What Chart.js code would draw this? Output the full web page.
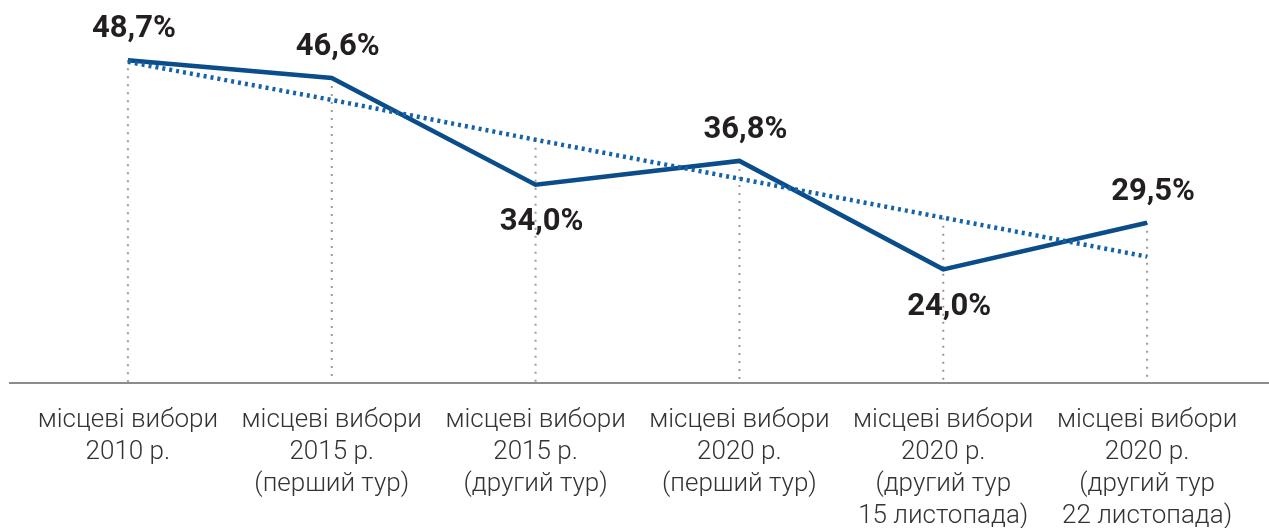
<!DOCTYPE html>
<html>
<head>
<meta charset="utf-8">
<script src="https://cdn.jsdelivr.net/npm/chart.js@4.4.0/dist/chart.umd.min.js"></script>
<style>
    html, body { margin: 0; padding: 0; background: #fff; overflow: hidden; }
    .chart-box { position: relative; width: 1269px; height: 554px; }
</style>
</head>
<body>
<div class="chart-box"><canvas id="turnout-chart"></canvas></div>
<script>
// Data
const categories = [
    ['місцеві вибори', '2010 р.'],
    ['місцеві вибори', '2015 р.', '(перший тур)'],
    ['місцеві вибори', '2015 р.', '(другий тур)'],
    ['місцеві вибори', '2020 р.', '(перший тур)'],
    ['місцеві вибори', '2020 р.', '(другий тур', '15 листопада)'],
    ['місцеві вибори', '2020 р.', '(другий тур', '22 листопада)']
];
const turnout = [48.7, 46.6, 34.0, 36.8, 24.0, 29.5];
const trend = [48.5, 44.0, 39.3, 34.7, 30.1, 25.5];
const labelBelow = [false, false, true, false, true, false];

const mainColor = '#0b4d8a';
const trendColor = '#1462a8';

// Drop lines, full-width baseline and value labels
const decorations = {
    id: 'decorations',
    beforeDatasetsDraw(chart) {
        const { ctx, chartArea, scales } = chart;
        const y = scales.y;
        ctx.save();
        ctx.strokeStyle = '#9a9a9a';
        ctx.lineWidth = 2;
        ctx.setLineDash([2, 6]);
        turnout.forEach((v, i) => {
            const x = scales.x.getPixelForValue(i);
            const top = y.getPixelForValue(Math.max(v, trend[i]));
            ctx.beginPath();
            ctx.moveTo(x, top);
            ctx.lineTo(x, chartArea.bottom);
            ctx.stroke();
        });
        ctx.setLineDash([]);
        ctx.strokeStyle = '#8c8c8c';
        ctx.lineWidth = 2;
        ctx.beginPath();
        ctx.moveTo(9, chartArea.bottom + 1);
        ctx.lineTo(chart.width, chartArea.bottom + 1);
        ctx.stroke();
        ctx.restore();
    },
    afterDatasetsDraw(chart) {
        const { ctx, scales } = chart;
        ctx.save();
        ctx.font = 'bold 31px Roboto';
        ctx.fillStyle = '#231f20';
        ctx.textAlign = 'center';
        ctx.textBaseline = 'middle';
        turnout.forEach((v, i) => {
            const x = scales.x.getPixelForValue(i);
            const py = scales.y.getPixelForValue(v);
            const ty = labelBelow[i] ? py + 38 : py - 31;
            ctx.fillText(v.toFixed(1).replace('.', ',') + '%', x + 6, ty);
        });
        ctx.restore();
    }
};

new Chart(document.getElementById('turnout-chart'), {
    type: 'line',
    data: {
        labels: categories,
        datasets: [
            {
                label: 'Явка',
                data: turnout,
                borderColor: mainColor,
                borderWidth: 4.5,
                pointRadius: 0,
                tension: 0,
                order: 2
            },
            {
                label: 'Тренд',
                data: trend,
                borderColor: trendColor,
                borderWidth: 4.5,
                borderDash: [3, 4],
                borderCapStyle: 'butt',
                pointRadius: 0,
                tension: 0,
                order: 1
            }
        ]
    },
    options: {
        responsive: true,
        maintainAspectRatio: false,
        animation: false,
        layout: { padding: { left: 26, right: 20, top: 0, bottom: 0 } },
        plugins: {
            legend: { display: false },
            tooltip: { enabled: false }
        },
        scales: {
            x: {
                offset: true,
                grid: { display: false, drawTicks: false },
                border: { display: false },
                ticks: {
                    color: '#333',
                    padding: 22,
                    maxRotation: 0,
                    autoSkip: false,
                    font: { family: 'Roboto', weight: '300', size: 26, lineHeight: '32px' }
                }
            },
            y: {
                display: false,
                min: 10.7,
                max: 55.8
            }
        }
    },
    plugins: [decorations]
});
</script>
</body>
</html>
